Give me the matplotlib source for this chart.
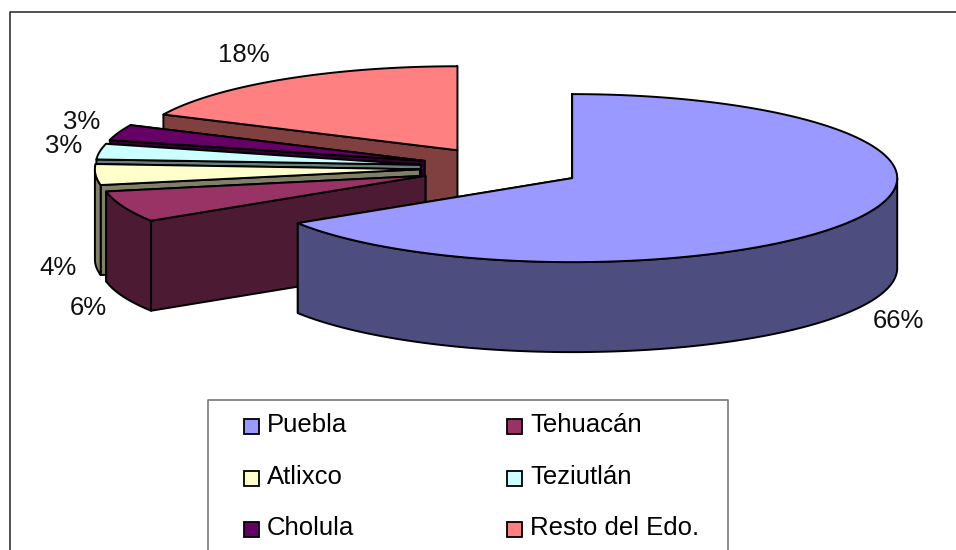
import numpy as np
from matplotlib import pyplot as plt
from matplotlib.patches import Polygon, Rectangle

plt.rcParams['font.family'] = ['Liberation Sans', 'DejaVu Sans']

categories = ["Puebla", "Tehuacán", "Atlixco", "Teziutlán", "Cholula", "Resto del Edo."]
values = [66, 6, 4, 3, 3, 18]
top_colors = ["#9999FF", "#993366", "#FFFFCC", "#CCFFFF", "#660066", "#FF8080"]
side_colors = ["#4D4D80", "#4D1A33", "#808066", "#668080", "#330033", "#804040"]

# pie geometry in pixels
cx, cy = 501, 168
rx, ry = 325, 84
depth = 90
explode = 0.25

label_pos = [(898, 321), (88, 308), (58, 268), (64, 146), (82, 122), (244, 55)]
legend_pos = [(244, 424), (507, 424), (244, 476), (507, 476), (244, 527), (507, 527)]


def rim(ax_x, ax_y, a0, a1):
    t = np.radians(np.linspace(a0, a1, max(int(a1 - a0) * 2, 2)))
    return ax_x + rx * np.sin(t), ax_y - ry * np.cos(t)


def draw_slice(ax, a0, a1, top, side):
    mid = np.radians((a0 + a1) / 2)
    x0 = cx + explode * rx * np.sin(mid)
    y0 = cy - explode * ry * np.cos(mid)
    xs, ys = rim(x0, y0, a0, a1)

    # the two cut faces, far one first
    for x1, y1 in [(xs[-1], ys[-1]), (xs[0], ys[0])]:
        wall = [(x0, y0), (x1, y1), (x1, y1 + depth), (x0, y0 + depth)]
        ax.add_patch(Polygon(wall, fc=side, ec="black", lw=1.4, joinstyle="round"))

    # outer rim, only the part facing the viewer
    lo, hi = max(a0, 90), min(a1, 270)
    if hi > lo:
        rx_pts, ry_pts = rim(x0, y0, lo, hi)
        strip = list(zip(rx_pts, ry_pts)) + list(zip(rx_pts[::-1], ry_pts[::-1] + depth))
        ax.add_patch(Polygon(strip, fc=side, ec="black", lw=1.4, joinstyle="round"))

    ax.add_patch(Polygon([(x0, y0)] + list(zip(xs, ys)), fc=top, ec="black", lw=1.4, joinstyle="round"))


fig = plt.figure(figsize=(9.56, 5.5), dpi=100)
ax = fig.add_axes([0, 0, 1, 1])
ax.set_xlim(0, 956)
ax.set_ylim(550, 0)
ax.axis("off")

# chart frame, cut off at right and bottom
ax.plot([10, 10, 956], [550, 12, 12], color="#333333", lw=1.2)

edges = np.cumsum([0] + values) / sum(values) * 360
order = [5, 4, 3, 2, 1, 0]
for i in order:
    draw_slice(ax, edges[i], edges[i + 1], top_colors[i], side_colors[i])

for val, (x, y) in zip(values, label_pos):
    ax.text(x, y, f"{val}%", fontsize=18.5, ha="center", va="center", color="#111111")

# legend box has no bottom edge in the source
ax.plot([208, 208, 728, 728], [550, 400, 400, 550], color="#777777", lw=1.2)
for name, color, (x, y) in zip(categories, top_colors, legend_pos):
    ax.add_patch(Rectangle((x, y - 5), 15, 15, fc=color, ec="black", lw=1.3))
    ax.text(x + 23, y + 1, name, fontsize=18.5, ha="left", va="center", color="black")

plt.savefig("out.png", dpi=100)
